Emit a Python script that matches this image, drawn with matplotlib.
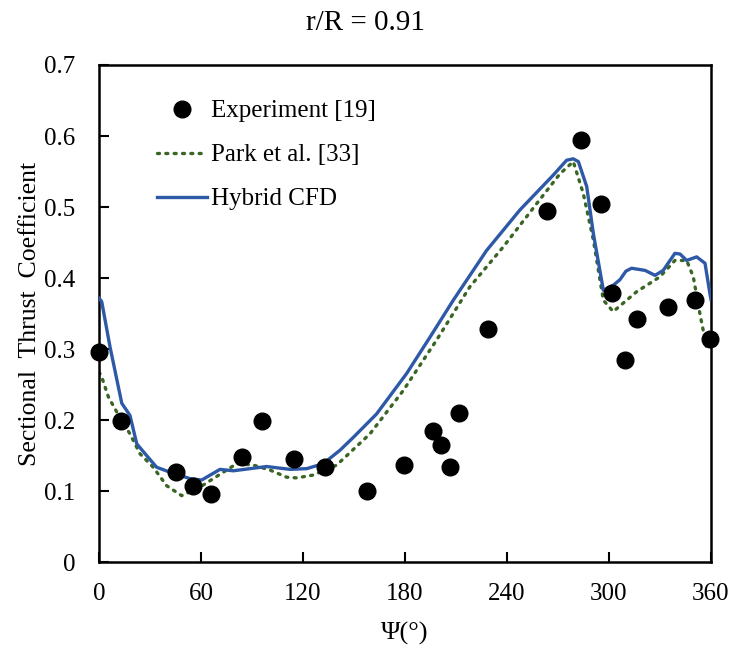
import matplotlib
matplotlib.use("Agg")
import matplotlib.pyplot as plt

plt.rcParams['font.family'] = ['Liberation Serif', 'DejaVu Serif']
plt.rcParams['mathtext.fontset'] = 'stix'

# Experiment [19]
exp_psi = [0, 12.9, 45.3, 55.3, 65.9, 84.1, 95.9, 114.7, 132.9, 157.6, 179.4,
           196.5, 201.2, 206.5, 211.8, 228.8, 263.5, 283.5, 295.3, 301.8,
           309.4, 316.5, 334.7, 350.6, 359.4]
exp_ct = [0.296, 0.199, 0.127, 0.107, 0.096, 0.148, 0.199, 0.145, 0.134, 0.100,
          0.137, 0.185, 0.165, 0.135, 0.211, 0.328, 0.494, 0.594, 0.504, 0.379,
          0.285, 0.342, 0.359, 0.370, 0.315]

# Park et al. [33]
park_psi = [0, 1.6, 5.5, 10.4, 18.2, 24.1, 31.9, 39.8, 48.6, 59.4, 73.1, 81, 90.8,
            100.6, 110.4, 116.3, 126.1, 139.8, 159.4, 179, 198.6, 218.2, 237.8,
            257.5, 271.2, 279, 284.9, 290.8, 296.7, 302.5, 316.3, 330, 338.8,
            345.7, 349.6, 353.5, 357.4]
park_ct = [0.268, 0.261, 0.233, 0.212, 0.181, 0.153, 0.134, 0.108, 0.094, 0.106,
           0.127, 0.139, 0.137, 0.130, 0.120, 0.119, 0.123, 0.137, 0.181, 0.242,
           0.313, 0.388, 0.444, 0.505, 0.547, 0.564, 0.519, 0.454, 0.369, 0.353,
           0.381, 0.402, 0.425, 0.425, 0.402, 0.350, 0.303]

# Hybrid CFD
cfd_psi = [0, 1.6, 6.5, 13.4, 18.2, 22.2, 27.1, 33.9, 41.8, 53.5, 60.4, 71.2, 79,
           88.8, 98.6, 112.4, 122.2, 131.9, 141.8, 149.6, 163.3, 181, 194.7,
           208.4, 228, 247.6, 267.2, 275.1, 279, 282, 286.9, 290.8, 296.7, 302.5,
           306.5, 310, 313.3, 321.2, 327.1, 331.9, 338.8, 341.8, 345.7, 351.6,
           356.5, 359.4, 360]
cfd_ct = [0.372, 0.367, 0.303, 0.224, 0.207, 0.167, 0.153, 0.134, 0.127, 0.118,
          0.116, 0.131, 0.129, 0.132, 0.135, 0.131, 0.132, 0.139, 0.158, 0.176,
          0.209, 0.266, 0.317, 0.369, 0.439, 0.496, 0.545, 0.566, 0.568, 0.564,
          0.529, 0.463, 0.383, 0.390, 0.398, 0.410, 0.414, 0.411, 0.404, 0.411,
          0.435, 0.434, 0.425, 0.430, 0.421, 0.378, 0.370]

x_ticks = [0, 60, 120, 180, 240, 300, 360]
y_ticks = [0, 0.1, 0.2, 0.3, 0.4, 0.5, 0.6, 0.7]
y_ticklabels = ['0', '0.1', '0.2', '0.3', '0.4', '0.5', '0.6', '0.7']

fig = plt.figure(figsize=(7.35, 6.48), dpi=100)
ax = fig.add_axes([0.1347, 0.132, 0.9673 - 0.1347, 0.8997 - 0.132])

ax.plot(cfd_psi, cfd_ct, color='#2E59A7', lw=2.4, label='Hybrid CFD', zorder=3)
ax.plot(park_psi, park_ct, color='#3A6624', lw=2.4, ls=(0, (0.6, 1.9)),
        dash_capstyle='round', label='Park et al. [33]', zorder=2)
ax.plot(exp_psi, exp_ct, 'o', color='black', ms=12, label='Experiment [19]',
        zorder=4, clip_on=False)

ax.set_xlim(0, 360)
ax.set_ylim(0, 0.7)
ax.set_xticks(x_ticks)
ax.set_xticklabels([str(v) for v in x_ticks])
ax.set_yticks(y_ticks)
ax.set_yticklabels(y_ticklabels)
ax.tick_params(direction='in', length=7, width=1.5, labelsize=18)
ax.tick_params(axis='x', pad=15)
ax.tick_params(axis='y', pad=17)
for s in ax.spines.values():
    s.set_linewidth(1.8)

ax.set_xlabel('Ψ(°)', fontsize=19, labelpad=12)
ax.set_ylabel('Sectional  Thrust  Coefficient', fontsize=18.5, labelpad=2)
fig.text(0.497, 0.965, 'r/R = 0.91', ha='center', va='center', fontsize=21)

h, l = ax.get_legend_handles_labels()
order = [2, 1, 0]
leg = ax.legend([h[i] for i in order], [l[i] for i in order],
                loc='upper left', bbox_to_anchor=(0.0784, 0.95), frameon=False,
                fontsize=18, handlelength=2.0, handletextpad=0.16,
                labelspacing=0.86, borderaxespad=0)

fig.savefig('out.png', dpi=100)
